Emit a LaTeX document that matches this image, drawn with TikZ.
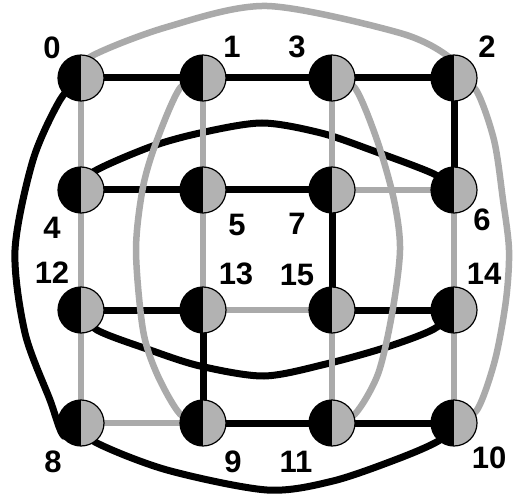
\documentclass[tikz,border=0pt]{standalone}
\usepackage{fontspec}
\setmainfont{Liberation Sans}
\usetikzlibrary{backgrounds}
\definecolor{edgegray}{RGB}{170,170,170}
\definecolor{nodegray}{RGB}{178,178,178}
\tikzset{
  vtx/.style={circle, draw=black, line width=1.2pt, minimum size=46pt, inner sep=0pt,
    fill=nodegray,
    path picture={\fill[black] (path picture bounding box.south west) rectangle (path picture bounding box.north);}},
  lbl/.style={font=\fontsize{31}{31}\selectfont\bfseries, inner sep=0pt},
  bl/.style={draw=black, line width=7pt},
  gr/.style={draw=edgegray, line width=6.5pt},
}
\begin{document}
\begin{tikzpicture}[x=1pt,y=-1pt]
\useasboundingbox (0,0) rectangle (514,497);
% nodes
\node[vtx] (n0) at (81,78) {};
\node[vtx] (n1) at (203,78) {};
\node[vtx] (n3) at (332,78) {};
\node[vtx] (n2) at (454,78) {};
\node[vtx] (n4) at (81,190) {};
\node[vtx] (n5) at (203,190) {};
\node[vtx] (n7) at (332,190) {};
\node[vtx] (n6) at (454,190) {};
\node[vtx] (n12) at (81,310) {};
\node[vtx] (n13) at (203,310) {};
\node[vtx] (n15) at (332,310) {};
\node[vtx] (n14) at (454,310) {};
\node[vtx] (n8) at (81,423) {};
\node[vtx] (n9) at (203,423) {};
\node[vtx] (n11) at (332,423) {};
\node[vtx] (n10) at (454,423) {};
% labels
\node[lbl] (l0) at (52,48) {0};
\node[lbl] (l1) at (232,47) {1};
\node[lbl] (l3) at (297,47) {3};
\node[lbl] (l2) at (487,47) {2};
\node[lbl] (l4) at (52,228) {4};
\node[lbl] (l5) at (237,225) {5};
\node[lbl] (l7) at (297,224) {7};
\node[lbl] (l6) at (482,220) {6};
\node[lbl] (l12) at (52,273) {12};
\node[lbl] (l13) at (236,274) {13};
\node[lbl] (l15) at (297,275) {15};
\node[lbl] (l14) at (484,274) {14};
\node[lbl] (l8) at (53,462) {8};
\node[lbl] (l9) at (233,462) {9};
\node[lbl] (l11) at (296,462) {11};
\node[lbl] (l10) at (489,458) {10};
\begin{scope}[on background layer]
% black edges
\draw[bl] (n0.center) -- (n1.center) -- (n3.center) -- (n2.center) -- (n6.center);
\draw[bl] (n4.center) -- (n5.center) -- (n7.center) -- (n15.center);
\draw[bl] (n12.center) -- (n13.center) -- (n9.center) -- (n11.center) -- (n10.center);
\draw[bl] (n15.center) -- (n14.center);
\draw[bl] plot[smooth] coordinates {(n0.center) (60,100) (33,160) (15,250) (25,333) (50,400) (64,436) (n8.center)};
\draw[bl] plot[smooth] coordinates {(n8.center) (95,442) (167,470) (267,490) (333,481) (400,458) (440,440) (n10.center)};
\draw[bl] plot[smooth] coordinates {(n4.center) (93,172) (150,147) (200,133) (262,123) (321,133) (371,150) (434,174) (n6.center)};
\draw[bl] plot[smooth] coordinates {(n12.center) (97,330) (150,350) (200,366) (264,376) (326,364) (387,347) (434,329) (n14.center)};
% gray edges
\draw[gr] (n0.center) -- (n4.center) -- (n12.center) -- (n8.center) -- (n9.center);
\draw[gr] (n1.center) -- (n5.center) -- (n13.center) -- (n15.center) -- (n11.center);
\draw[gr] (n3.center) -- (n7.center) -- (n6.center) -- (n14.center) -- (n10.center);
\draw[gr] plot[smooth] coordinates {(n0.center) (90,57) (167,27) (267,6) (400,33) (450,58) (n2.center)};
\draw[gr] plot[smooth] coordinates {(n2.center) (476,90) (494,140) (503,200) (509,250) (506,300) (495,360) (477,410) (n10.center)};
\draw[gr] plot[smooth] coordinates {(n1.center) (180,88) (157,140) (143,187) (136,250) (143,330) (157,374) (180,414) (n9.center)};
\draw[gr] plot[smooth] coordinates {(n3.center) (355,88) (377,140) (394,200) (400,250) (392,314) (378,374) (355,414) (n11.center)};
\end{scope}
\end{tikzpicture}
\end{document}
